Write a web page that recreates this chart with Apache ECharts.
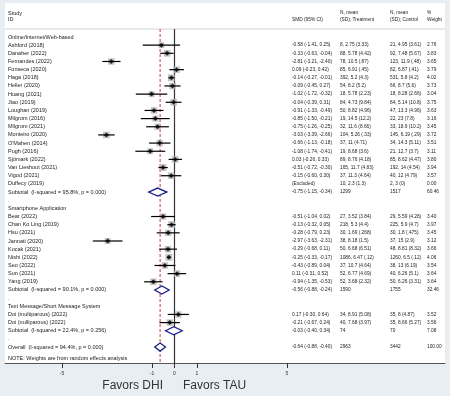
<!DOCTYPE html>
<html>
<head>
<meta charset="utf-8">
<script src="https://cdn.jsdelivr.net/npm/echarts@6/dist/echarts.min.js"></script>
<style>
  html, body { margin: 0; padding: 0; background: #e8eef2; }
  #chart { width: 450px; height: 396px; }
</style>
</head>
<body>
<div id="chart"></div>
<script>
// data
const groupNames = ['Online/Internet/Web-based', 'Smartphone Application', 'Text Message/Short Message System'];
const studyNames = ['Ashford (2018)', 'Danaher (2022)', 'Fernandes (2022)', 'Fonseca (2020)', 'Haga (2018)', 'Heller (2020)',
  'Huang (2021)', 'Jiao (2019)', 'Loughan (2019)', 'Milgrom (2016)', 'Milgrom (2021)', 'Monteiro (2020)', "O'Mahen (2014)",
  'Pugh (2016)', 'Sjömark (2022)', 'Van Lieshout (2021)', 'Vigod (2021)', 'Duffecy (2019)',
  'Bear (2022)', 'Chan Ko Ling (2019)', 'Hsu (2021)', 'Jannati (2020)', 'Kocak (2021)', 'Nishi (2022)', 'Seo (2022)',
  'Sun (2021)', 'Yang (2019)',
  'Doi (multiparous) (2022)', 'Doi (nulliparous) (2022)'];
const studyGroup = [0,0,0,0,0,0,0,0,0,0,0,0,0,0,0,0,0,0, 1,1,1,1,1,1,1,1,1, 2,2];
const smd = [-0.58,-0.33,-2.81,0.09,-0.14,-0.09,-1.02,-0.04,-0.91,-0.85,-0.75,-3.03,-0.66,-1.08,0.03,-0.51,-0.15,null,
  -0.51,-0.13,-0.28,-2.97,-0.29,-0.25,-0.43,0.11,-0.94, 0.17,-0.21];
const ciLow = [-1.41,-0.63,-3.21,-0.23,-0.27,-0.45,-1.72,-0.39,-1.33,-1.50,-1.26,-3.39,-1.13,-1.74,-0.26,-0.72,-0.60,null,
  -1.04,-0.32,-0.79,-3.63,-0.68,-0.33,-0.89,-0.31,-1.35, -0.30,-0.67];
const ciHigh = [0.25,-0.04,-2.40,0.42,-0.01,0.27,-0.32,0.31,-0.49,-0.21,-0.25,-2.66,-0.18,-0.41,0.33,-0.30,0.30,null,
  0.02,0.05,0.23,-2.31,0.11,-0.17,0.04,0.52,-0.53, 0.64,0.24];
const weight = [2.76,3.83,3.65,3.79,4.02,3.73,3.04,3.75,3.63,3.16,3.45,3.72,3.51,3.11,3.80,3.94,3.57,0.00,
  3.40,3.97,3.45,3.12,3.66,4.06,3.54,3.64,3.64, 3.52,3.56];
const treatment = ['8, 2.75 (3.33)','88, 5.78 (4.42)','78, 10.5 (.87)','85, 6.91 (.45)','392, 5.2 (4.3)','54, 8.2 (5.2)',
  '18, 5.78 (2.23)','84, 4.73 (9.84)','50, 8.82 (4.96)','19, 14.5 (12.2)','32, 11.6 (8.66)','104, 5.26 (.33)','37, 11 (4.71)',
  '19, 8.68 (3.6)','89, 8.76 (4.18)','165, 11.7 (4.83)','37, 11.3 (4.64)','10, 2.3 (1.3)',
  '27, 3.52 (3.84)','218, 5.3 (4.4)','30, 1.69 (.268)','38, 8.18 (1.5)','50, 6.68 (6.51)','1086, 6.47 (.12)','37, 10.7 (4.64)',
  '52, 6.77 (4.69)','52, 3.68 (2.32)', '34, 8.91 (5.08)','40, 7.68 (3.97)'];
const control = ['21, 4.95 (3.61)','92, 7.48 (5.67)','123, 11.9 (.48)','82, 6.87 (.41)','531, 5.8 (4.2)','66, 8.7 (5.6)',
  '18, 8.28 (2.66)','84, 5.14 (10.8)','47, 13.3 (4.96)','22, 23 (7.8)','33, 18.9 (10.2)','145, 6.19 (.29)','34, 14.3 (5.11)',
  '21, 12.7 (3.7)','85, 8.62 (4.47)','192, 14 (4.54)','40, 12 (4.79)','2, 3 (0)',
  '29, 5.59 (4.28)','225, 5.9 (4.7)','30, 1.8 (.475)','37, 15 (2.9)','48, 8.81 (8.32)','1260, 6.5 (.12)','38, 13 (6.19)',
  '40, 6.26 (5.1)','50, 6.26 (3.31)', '35, 8 (4.87)','35, 8.66 (5.27)'];

const subLabels = ['Subtotal  (I-squared = 95.8%, p = 0.000)', 'Subtotal  (I-squared = 90.1%, p = 0.000)', 'Subtotal  (I-squared = 22.4%, p = 0.256)'];
const subSmd = [-0.75, -0.56, -0.03];
const subLow = [-1.15, -0.88, -0.40];
const subHigh = [-0.34, -0.24, 0.34];
const subTreatment = ['1299', '1590', '74'];
const subControl = ['1517', '1755', '70'];
const subWeight = [60.46, 32.46, 7.08];

const overallLabel = 'Overall  (I-squared = 94.4%, p = 0.000)';
const overallSmd = -0.64;
const overallLow = -0.88;
const overallHigh = -0.40;
const overallTreatment = '2963';
const overallControl = '3442';
const overallWeight = 100.00;

const xTicks = [-5, -1, 0, 1, 5];

// layout
const W = 450, H = 396;
const gridL = 5, gridR = 445, gridT = 3, gridB = 363;
const zeroPx = 174.5, pxPerUnit = 22.5;
const rowTop = 37, rowStep = 8.16;
const colLabel = 8, colSmd = 292, colT = 340, colC = 390, colW = 427;
const fsLeft = 5.5, fsRight = 4.8;
const font = 'Liberation Sans, Arial, sans-serif';
const toRow = px => (px - rowTop) / rowStep;

const f2 = v => v.toFixed(2);
const smdText = (m, lo, hi) => f2(m) + ' (' + f2(lo) + ', ' + f2(hi) + ')';

// build rows
let texts = [];   // {x, row, text}
let ciData = [], boxData = [], pointData = [], diamonds = [];
let row = 0;
groupNames.forEach((g, gi) => {
  texts.push({ x: colLabel, row: row, text: g });
  row++;
  studyNames.forEach((name, i) => {
    if (studyGroup[i] !== gi) return;
    texts.push({ x: colLabel, row: row, text: name });
    if (smd[i] === null) {
      texts.push({ x: colSmd, row: row, text: '(Excluded)' });
    } else {
      texts.push({ x: colSmd, row: row, text: smdText(smd[i], ciLow[i], ciHigh[i]) });
      ciData.push([ciLow[i], ciHigh[i], row]);
      boxData.push([smd[i], row, weight[i]]);
      pointData.push([smd[i], row]);
    }
    texts.push({ x: colT, row: row, text: treatment[i] });
    texts.push({ x: colC, row: row, text: control[i] });
    texts.push({ x: colW, row: row, text: f2(weight[i]) });
    row++;
  });
  texts.push({ x: colLabel, row: row, text: subLabels[gi] });
  texts.push({ x: colSmd, row: row, text: smdText(subSmd[gi], subLow[gi], subHigh[gi]) });
  texts.push({ x: colT, row: row, text: subTreatment[gi] });
  texts.push({ x: colC, row: row, text: subControl[gi] });
  texts.push({ x: colW, row: row, text: f2(subWeight[gi]) });
  diamonds.push([subLow[gi], subSmd[gi], subHigh[gi], row]);
  row++;
  texts.push({ x: colLabel, row: row, text: '.' });
  row++;
});
texts.push({ x: colLabel, row: row, text: overallLabel });
texts.push({ x: colSmd, row: row, text: smdText(overallSmd, overallLow, overallHigh) });
texts.push({ x: colT, row: row, text: overallTreatment });
texts.push({ x: colC, row: row, text: overallControl });
texts.push({ x: colW, row: row, text: overallWeight.toFixed(2) });
diamonds.push([overallLow, overallSmd, overallHigh, row]);
texts.push({ x: colLabel, row: toRow(358), text: 'NOTE: Weights are from random effects analysis' });

// header
const h1 = toRow(13), h2 = toRow(19.5);
texts.push({ x: colLabel, row: h1, text: 'Study' });
texts.push({ x: colLabel, row: h2, text: 'ID' });
texts.push({ x: colSmd, row: h2, text: 'SMD (95% CI)' });
texts.push({ x: colT, row: h1, text: 'N, mean' });
texts.push({ x: colT, row: h2, text: '(SD); Treatment' });
texts.push({ x: colC, row: h1, text: 'N, mean' });
texts.push({ x: colC, row: h2, text: '(SD); Control' });
texts.push({ x: colW, row: h1, text: '%' });
texts.push({ x: colW, row: h2, text: 'Weight' });

const sepRow = toRow(29);
const yMax = toRow(gridB);

let chart = echarts.init(document.getElementById('chart'), null, { renderer: 'canvas' });
let option = {
  animation: false,
  backgroundColor: '#e8eef2',
  grid: {
    left: gridL, top: gridT, width: gridR - gridL, height: gridB - gridT,
    show: true, backgroundColor: '#ffffff', borderWidth: 0
  },
  xAxis: [{
    type: 'value',
    min: (gridL - zeroPx) / pxPerUnit,
    max: (gridR - zeroPx) / pxPerUnit,
    position: 'bottom',
    splitLine: { show: false },
    axisLine: { show: true, onZero: false, lineStyle: { color: '#555', width: 1 } },
    axisTick: { show: true, customValues: xTicks, length: 5, lineStyle: { color: '#333', width: 1 } },
    axisLabel: { show: true, customValues: xTicks, fontSize: 5, color: '#333', fontFamily: font, margin: 8 }
  }, {
    type: 'value', min: gridL, max: gridR, show: false
  }],
  yAxis: {
    type: 'value', inverse: true, min: toRow(gridT), max: yMax, show: false
  },
  series: [{
    // header separator
    type: 'custom',
    xAxisIndex: 1,
    data: [[gridL, sepRow]],
    renderItem: (params, api) => {
      const a = api.coord([gridL, sepRow]);
      const b = api.coord([gridR, sepRow]);
      return { type: 'line', shape: { x1: a[0], y1: a[1], x2: b[0], y2: b[1] },
        style: { stroke: '#d4d4d4', lineWidth: 1 } };
    }
  }, {
    // reference lines
    type: 'custom',
    data: [[0, 0], [overallSmd, 1]],
    renderItem: (params, api) => {
      const x = api.value(0);
      const a = api.coord([x, sepRow]);
      const b = api.coord([x, yMax]);
      const dashed = params.dataIndex === 1;
      return { type: 'line', shape: { x1: a[0], y1: a[1], x2: b[0], y2: b[1] },
        style: dashed ? { stroke: '#c83c3c', lineWidth: 1, lineDash: [3, 2] } : { stroke: '#333', lineWidth: 1.2 } };
    }
  }, {
    // weight boxes
    type: 'scatter',
    data: boxData,
    symbol: 'rect',
    symbolSize: v => 3.4 * Math.sqrt(v[2]),
    itemStyle: { color: '#b4b4b4' },
    z: 3
  }, {
    // confidence intervals
    type: 'custom',
    data: ciData,
    renderItem: (params, api) => {
      const a = api.coord([api.value(0), api.value(2)]);
      const b = api.coord([api.value(1), api.value(2)]);
      return { type: 'line', shape: { x1: a[0], y1: a[1], x2: b[0], y2: b[1] },
        style: { stroke: '#000', lineWidth: 1.2 } };
    },
    z: 4
  }, {
    // point estimates
    type: 'scatter',
    data: pointData,
    symbol: 'diamond',
    symbolSize: 5,
    itemStyle: { color: '#000' },
    z: 5
  }, {
    // pooled diamonds
    type: 'custom',
    data: diamonds,
    renderItem: (params, api) => {
      const r = api.value(3);
      const lo = api.coord([api.value(0), r]);
      const m = api.coord([api.value(1), r]);
      const hi = api.coord([api.value(2), r]);
      return { type: 'polygon',
        shape: { points: [[lo[0], lo[1]], [m[0], m[1] - 4], [hi[0], hi[1]], [m[0], m[1] + 4]] },
        style: { stroke: '#1c1c8c', lineWidth: 1.3, fill: '#ffffff' } };
    },
    z: 5
  }, {
    // table text
    type: 'custom',
    xAxisIndex: 1,
    data: texts.map(t => [t.x, t.row]),
    renderItem: (params, api) => {
      const t = texts[params.dataIndex];
      const p = api.coord([api.value(0), api.value(1)]);
      return { type: 'text', x: p[0], y: p[1],
        style: { text: t.text, fontSize: t.x === colLabel ? fsLeft : fsRight, fontFamily: font, fill: '#222',
          textAlign: 'left', textVerticalAlign: 'middle' } };
    },
    z: 6
  }],
  graphic: [{
    type: 'text', right: W - 163, top: 380,
    style: { text: 'Favors DHI', fontSize: 12, fontFamily: font, fill: '#333' }
  }, {
    type: 'text', left: 183, top: 380,
    style: { text: 'Favors TAU', fontSize: 12, fontFamily: font, fill: '#333' }
  }]
};
chart.setOption(option);
</script>
</body>
</html>
